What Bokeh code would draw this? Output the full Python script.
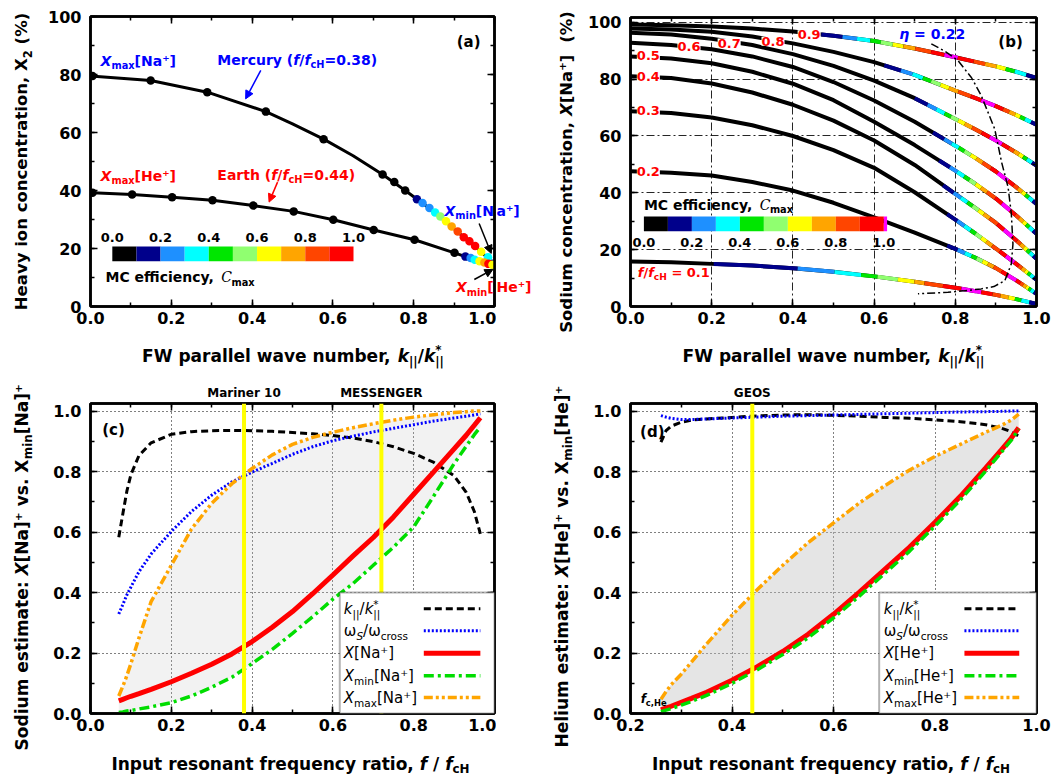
import math
import numpy as np
from bokeh.plotting import figure
from bokeh.layouts import row, column
from bokeh.models import (Range1d, LinearAxis, SingleIntervalTicker, PrintfTickFormatter,
                          Label, Span, BoxAnnotation, Arrow, NormalHead, ColumnDataSource)
from bokeh.transform import linear_cmap
from bokeh.embed import file_html
from bokeh.resources import INLINE

# ============================ DATA ============================
# ---- panel (a): heavy ion concentration vs k||/k||*
a_na_k = [0.005, 0.149, 0.289, 0.434, 0.577, 0.723, 0.752, 0.779, 0.808, 0.822, 0.839,
          0.853, 0.866, 0.880, 0.894, 0.909, 0.924, 0.938, 0.952, 0.967, 0.984, 0.996]
a_na_x = [79.5, 77.9, 73.9, 67.2, 57.7, 45.5, 42.9, 40.0, 37.0, 35.7, 34.0,
          32.4, 31.0, 29.4, 27.6, 25.9, 23.9, 22.5, 20.9, 18.9, 17.0, 14.7]
a_na_c = [0, 0, 0, 0, 0, 0, 0, 0, 0.15, 0.25, 0.25,
          0.35, 0.55, 0.65, 0.75, 0.85, 0.95, 0.95, 0.95, 0.65, 0.35, 0.15]
a_na_line_k = [0.0, 0.149, 0.289, 0.434, 0.5, 0.577, 0.65, 0.723, 0.779, 0.853, 0.924, 0.967, 1.0]
a_na_line_x = [79.5, 77.9, 73.9, 67.2, 63.0, 57.7, 52.0, 45.5, 40.0, 32.4, 23.9, 18.9, 14.3]

a_he_k = [0.005, 0.103, 0.202, 0.302, 0.403, 0.503, 0.601, 0.701, 0.802, 0.901,
          0.928, 0.941, 0.951, 0.963, 0.975, 0.985, 0.995]
a_he_x = [39.2, 38.6, 37.7, 36.6, 34.8, 32.8, 29.9, 26.4, 23.0, 18.5,
          17.2, 16.7, 16.1, 15.6, 15.2, 14.7, 14.4]
a_he_c = [0, 0, 0, 0, 0, 0, 0, 0, 0, 0,
          0.15, 0.25, 0.35, 0.65, 0.75, 0.95, 0.65]

# ---- panel (b): sodium concentration curves for f/fcH = 0.1 ... 0.9
b_k = [0.0, 0.1, 0.2, 0.3, 0.4, 0.5, 0.6, 0.7, 0.8, 0.85, 0.9, 0.95, 1.0]
b_f01 = [15.8, 15.6, 15.0, 14.4, 13.5, 12.2, 10.6, 8.7, 6.6, 5.4, 4.1, 2.6, 0.9]
b_f02 = [47.6, 47.1, 46.1, 43.8, 40.8, 36.5, 31.4, 26.0, 20.3, 17.1, 13.5, 9.2, 4.5]
b_f03 = [68.7, 68.1, 66.5, 63.8, 60.0, 55.0, 48.8, 40.2, 30.6, 25.6, 20.4, 15.0, 9.4]
b_f04 = [81.0, 80.4, 78.5, 75.3, 71.0, 65.4, 58.4, 49.8, 39.6, 34.6, 29.4, 23.3, 16.8]
b_f05 = [88.0, 87.3, 85.6, 82.6, 78.4, 72.6, 65.0, 56.8, 47.8, 43.1, 38.0, 32.0, 25.6]
b_f06 = [92.8, 92.0, 90.5, 88.0, 84.3, 79.0, 72.5, 65.0, 56.6, 52.2, 47.5, 42.0, 36.1]
b_f07 = [96.3, 95.7, 94.2, 92.0, 88.8, 84.7, 79.5, 73.3, 66.0, 62.3, 58.4, 54.2, 49.6]
b_f08 = [97.8, 97.5, 96.7, 95.0, 92.6, 89.6, 86.0, 81.5, 76.0, 73.3, 70.5, 67.4, 64.0]
b_f09 = [99.2, 99.0, 98.5, 97.8, 96.8, 95.3, 93.4, 90.8, 87.7, 86.1, 84.5, 82.6, 80.4]
b_f_labels = ["0.1", "0.2", "0.3", "0.4", "0.5", "0.6", "0.7", "0.8", "0.9"]
# k where MC efficiency colouring starts, and the k-window of the efficiency peak
b_c_start = [0.205, 0.78, 0.78, 0.77, 0.76, 0.745, 0.70, 0.625, 0.47]
b_peak_lo = [0.815, 0.93, 0.925, 0.92, 0.915, 0.905, 0.885, 0.864, 0.773]
b_peak_hi = [0.864, 0.95, 0.945, 0.94, 0.935, 0.93, 0.915, 0.897, 0.806]
# eta = 0.22 contour
eta_k = [0.741, 0.775, 0.807, 0.84, 0.864, 0.897, 0.914, 0.930, 0.938, 0.942,
         0.938, 0.922, 0.895, 0.864, 0.82, 0.782, 0.708]
eta_x = [92.4, 89.8, 86.5, 80.5, 74.2, 62.5, 50.8, 42.0, 32.6, 22.0,
         15.0, 9.1, 7.0, 6.2, 5.5, 5.0, 4.5]

# ---- panel (c): sodium estimate vs f/fcH
c_f = [0.07, 0.08, 0.09, 0.10, 0.12, 0.15, 0.20, 0.25, 0.30, 0.35, 0.40, 0.45,
       0.50, 0.55, 0.60, 0.65, 0.70, 0.75, 0.80, 0.85, 0.90, 0.93, 0.95, 0.965]
c_kpar = [0.583, 0.66, 0.735, 0.79, 0.853, 0.895, 0.923, 0.932, 0.935, 0.936, 0.935, 0.933,
          0.929, 0.925, 0.919, 0.911, 0.899, 0.882, 0.86, 0.83, 0.786, 0.731, 0.668, 0.594]
c_omega = [0.329, 0.36, 0.392, 0.418, 0.469, 0.527, 0.602, 0.668, 0.722, 0.766, 0.798, 0.827,
           0.857, 0.882, 0.902, 0.917, 0.931, 0.943, 0.955, 0.967, 0.977, 0.983, 0.987, 0.991]
c_x = [0.042, 0.047, 0.052, 0.057, 0.066, 0.08, 0.105, 0.133, 0.163, 0.197, 0.238, 0.285,
       0.337, 0.396, 0.458, 0.521, 0.582, 0.65, 0.725, 0.8, 0.875, 0.92, 0.953, 0.978]
c_xmin = [0.003, 0.005, 0.008, 0.01, 0.015, 0.022, 0.036, 0.058, 0.087, 0.12, 0.165, 0.212,
          0.265, 0.32, 0.378, 0.43, 0.49, 0.55, 0.617, 0.72, 0.826, 0.884, 0.922, 0.947]
c_xmax = [0.058, 0.09, 0.125, 0.165, 0.25, 0.37, 0.49, 0.61, 0.695, 0.76, 0.81, 0.855,
          0.89, 0.913, 0.93, 0.945, 0.958, 0.97, 0.98, 0.988, 0.995, 0.998, 1.0, 1.0]
c_mission_f = [0.38, 0.72]
c_mission_name = ["Mariner 10", "MESSENGER"]

# ---- panel (d): helium estimate vs f/fcH
d_f = [0.26, 0.27, 0.28, 0.30, 0.32, 0.35, 0.40, 0.45, 0.50, 0.55, 0.60, 0.65,
       0.70, 0.75, 0.80, 0.85, 0.90, 0.93, 0.95, 0.965]
d_kpar = [0.897, 0.935, 0.95, 0.963, 0.97, 0.974, 0.979, 0.984, 0.987, 0.988, 0.986, 0.983,
          0.979, 0.976, 0.971, 0.965, 0.955, 0.944, 0.932, 0.917]
d_omega = [0.985, 0.98, 0.976, 0.972, 0.972, 0.974, 0.977, 0.98, 0.983, 0.985, 0.987, 0.989,
           0.991, 0.993, 0.995, 0.997, 0.998, 0.999, 1.0, 1.0]
d_x = [0.012, 0.018, 0.024, 0.037, 0.05, 0.07, 0.11, 0.155, 0.205, 0.262, 0.328, 0.40,
       0.475, 0.55, 0.632, 0.718, 0.812, 0.87, 0.91, 0.945]
d_xmin = [0.006, 0.011, 0.016, 0.028, 0.04, 0.06, 0.1, 0.145, 0.195, 0.25, 0.316, 0.387,
          0.462, 0.537, 0.62, 0.706, 0.802, 0.862, 0.903, 0.94]
d_xmax = [0.047, 0.072, 0.095, 0.13, 0.17, 0.23, 0.325, 0.41, 0.49, 0.565, 0.63, 0.695,
          0.752, 0.805, 0.85, 0.89, 0.93, 0.952, 0.97, 0.99]
d_mission_f = [0.44]
d_mission_name = ["GEOS"]

# ---- MC efficiency colour scale
mc_bins = [0.0, 0.1, 0.2, 0.3, 0.4, 0.5, 0.6, 0.7, 0.8, 0.9]
mc_ticks = [0.0, 0.2, 0.4, 0.6, 0.8, 1.0]

# ============================ STYLE / LAYOUT ============================
FONT = "DejaVu Sans"
PALETTE = ["#000000", "#00008b", "#1e90ff", "#00ffff", "#00e600",
           "#90ff70", "#ffff00", "#ffa500", "#ff4500", "#ff0000"]
MAGENTA = "#ff00ff"

BW = {' ': .348, 'a': .675, 'b': .716, 'c': .593, 'd': .716, 'e': .678, 'f': .435, 'g': .716,
      'h': .712, 'i': .343, 'j': .343, 'k': .665, 'l': .343, 'm': 1.042, 'n': .712, 'o': .687,
      'p': .716, 'q': .716, 'r': .493, 's': .595, 't': .478, 'u': .712, 'v': .652, 'w': .924,
      'x': .645, 'y': .652, 'z': .582, 'A': .774, 'B': .762, 'C': .734, 'D': .830, 'E': .683,
      'F': .683, 'G': .821, 'H': .837, 'I': .372, 'K': .775, 'L': .637, 'M': .995, 'N': .837,
      'O': .850, 'P': .733, 'R': .770, 'S': .720, 'T': .682, 'U': .812, 'W': 1.03, 'X': .774,
      'Y': .724, 'Z': .725, '(': .457, ')': .457, '[': .457, ']': .457, ',': .38, '.': .38,
      ':': .4, '/': .365, '=': .838, '%': 1.002, '*': .523, '|': .366, '+': .838, '-': .415,
      '\u207a': .55, '\u03c9': .93, '\u03b7': .712}
NW = {' ': .318, 'a': .613, 'b': .635, 'c': .550, 'd': .635, 'e': .615, 'f': .352, 'g': .635,
      'h': .634, 'i': .278, 'k': .579, 'l': .278, 'm': .974, 'n': .634, 'o': .612, 'p': .635,
      'r': .411, 's': .521, 't': .392, 'u': .634, 'v': .592, 'w': .818, 'x': .592, 'y': .592,
      'C': .698, 'H': .752, 'N': .748, 'S': .635, 'X': .685, '(': .390, ')': .390, '[': .390,
      ']': .390, ',': .318, '.': .318, '/': .337, '=': .838, '*': .500, '|': .337,
      '\u207a': .52, '\u03c9': .84, '+': .838}
for _d in "0123456789":
    BW[_d] = .696
    NW[_d] = .636


def text_w(s, size, bold=True):
    tbl = BW if bold else NW
    return sum(tbl.get(ch, 0.65) for ch in s) * size


def rich(p, x, y, parts, size, color="black", bold=True, angle=0.0, align="left",
         dx=0.0, dy=0.0, vcenter=False, units="data"):
    """Place a text made of pieces (normal / italic / sub / sup) as real text Labels.
    (x, y) is the baseline start (or its centre line when vcenter=True)."""
    items = []
    pos = 0.0
    prev_start = 0.0
    for text, mode in parts:
        small = mode in ("sub", "isub", "sup", "supback")
        s = size * 0.7 if small else size
        italic = mode in ("i", "isub")
        family = FONT
        if mode == "cal":
            family, style = "DejaVu Serif", "italic"
        else:
            style = ("bold " if bold else "") + ("italic" if italic else "")
            style = style.strip() or "normal"
        w = text_w(text, s, bold)
        if mode in ("sub", "isub"):
            shift = -0.24 * size
        elif mode in ("sup", "supback"):
            shift = 0.45 * size
        else:
            shift = 0.0
        start = prev_start if mode == "supback" else pos
        # leading blanks would be collapsed in SVG text: skip them by position instead
        body = text.lstrip(" ")
        lead = text_w(text[:len(text) - len(body)], s, bold)
        items.append((body, s, family, style, start + lead, shift))
        if mode == "supback":
            pos = max(pos, start + w)
        else:
            prev_start = pos
            pos += w
    total = pos
    off = {"left": 0.0, "center": -total / 2.0, "right": -total}[align]
    base = -0.36 * size if vcenter else 0.0
    ca, sa = math.cos(angle), math.sin(angle)
    for text, s, family, style, start, shift in items:
        a = start + off
        b = shift + base + 0.35 * s      # middle of the piece, above its baseline
        p.add_layout(Label(x=x, y=y, x_units=units, y_units=units,
                           x_offset=dx + a * ca - b * sa, y_offset=dy + a * sa + b * ca,
                           text=text, angle=angle, text_font=family, text_font_size=f"{s:.1f}px",
                           text_font_style=style, text_color=color, text_align="left",
                           text_baseline="middle"))


def plain(p, x, y, text, size, color="black", bold=True, align="center", dx=0, dy=0, bg=None,
          units="data"):
    kw = {}
    if bg is not None:
        kw = dict(background_fill_color=bg, background_fill_alpha=1.0)
    p.add_layout(Label(x=x, y=y, x_units=units, y_units=units, x_offset=dx, y_offset=dy,
                       text=text, text_font=FONT,
                       text_font_size=f"{size}px", text_font_style="bold" if bold else "normal",
                       text_color=color, text_align=align, text_baseline="middle", **kw))


def make_fig(w, h, xr, yr, bl, br, bt, bb):
    p = figure(width=w, height=h, x_range=Range1d(*xr), y_range=Range1d(*yr),
               output_backend="svg", toolbar_location=None,
               min_border_left=bl, min_border_right=br, min_border_top=bt, min_border_bottom=bb,
               background_fill_color="white", border_fill_color="white")
    p.outline_line_color = "black"
    p.outline_line_width = 2.5
    return p


def strip(w, h):
    """Text-only canvas for the texts outside the plot frames."""
    s = figure(width=w, height=h, x_range=Range1d(0, 1), y_range=Range1d(0, 1),
               x_axis_type=None, y_axis_type=None, output_backend="svg", toolbar_location=None,
               min_border=0, min_border_left=0, min_border_right=0, min_border_top=0,
               min_border_bottom=0, background_fill_color="white", border_fill_color="white")
    s.outline_line_color = None
    s.grid.visible = False
    return s


def style_axes(p, xint, yint, xfmt, yfmt):
    xt = SingleIntervalTicker(interval=xint, num_minor_ticks=2)
    yt = SingleIntervalTicker(interval=yint, num_minor_ticks=2)
    p.xaxis[0].ticker = xt
    p.yaxis[0].ticker = yt
    p.xaxis[0].formatter = PrintfTickFormatter(format=xfmt)
    p.yaxis[0].formatter = PrintfTickFormatter(format=yfmt)
    p.add_layout(LinearAxis(ticker=xt), "above")
    p.add_layout(LinearAxis(ticker=yt), "right")
    for ax in list(p.xaxis) + list(p.yaxis):
        ax.axis_line_width = 2.5
        ax.major_tick_in = 7
        ax.major_tick_out = 0
        ax.minor_tick_in = 4
        ax.minor_tick_out = 0
        ax.major_tick_line_width = 1.5
        ax.minor_tick_line_width = 1.5
        ax.major_label_text_font = FONT
        ax.major_label_text_font_style = "bold"
        ax.major_label_text_font_size = "16px"
        ax.major_label_text_color = "black"
    p.xaxis[0].major_label_standoff = 10
    p.yaxis[0].major_label_standoff = 9
    for ax in (p.above[0], p.right[0]):
        ax.major_label_text_font_size = "1px"
        ax.major_label_text_color = None
        ax.major_label_standoff = 0
    return xt, yt


cmap = linear_cmap("c", PALETTE, 0.0, 1.0, high_color=MAGENTA)

KPAR = [("k", "i"), ("||", "sub"), ("/", "n"), ("k", "i"), ("||", "sub"), ("*", "supback")]
FRATIO = [("Input resonant frequency ratio, ", "n"), ("f", "i"), (" / ", "n"), ("f", "i"),
          ("cH", "sub")]
ST_K = dict(line_color="black", line_width=3, line_dash="7 4")
ST_W = dict(line_color="#0000ff", line_width=3, line_dash="2 2")
ST_X = dict(line_color="#ff0000", line_width=5)
ST_MIN = dict(line_color="#00dd00", line_width=3.5, line_dash="10 4 3 4")
ST_MAX = dict(line_color="#ffa500", line_width=3.5, line_dash="9 3 3 3 3 3")


def colorbar(p, x0, x1, y0, y1, label_y, extra_magenta=0.0):
    lefts = [x0 + b * (x1 - x0) for b in mc_bins]
    rights = [x0 + (b + 0.1) * (x1 - x0) for b in mc_bins]
    src = ColumnDataSource(dict(l=lefts, r=rights, c=[b + 0.05 for b in mc_bins]))
    p.quad(left="l", right="r", bottom=y0, top=y1, fill_color=cmap, line_color=None, source=src)
    if extra_magenta > 0:
        p.quad(left=[x1], right=[x1 + extra_magenta], bottom=y0, top=y1,
               fill_color=MAGENTA, line_color=None)
    for t in mc_ticks:
        plain(p, x0 + t * (x1 - x0), label_y, f"{t:.1f}", 13)


def legend(p, box, rows, text_x, line_x, entries, size=15):
    p.add_layout(BoxAnnotation(left=box[0], right=box[1], bottom=box[2], top=box[3],
                               fill_color="white", fill_alpha=1.0, line_color="black",
                               line_width=2))
    for (parts, st), y in zip(entries, rows):
        p.line(line_x, [y, y], level="overlay", **st)
        rich(p, text_x, y, parts, size, bold=False, vcenter=True)


# page layout (page starts at 0,0): columns 34 | 462 | 82 | 479 px, rows 340 | 61 | 349 | 28 px.
# Strips stacked under a plot share that plot's frame (x measured from the frame's left edge).
sL = strip(34, 778)        # y titles of (a) and (c)
sM = strip(82, 778)        # y titles of (b) and (d)
s1L = strip(462, 61)       # x title of (a), mission names of (c)
s1R = strip(479, 61)       # x title of (b), mission name of (d)
s2L = strip(462, 28)       # x title of (c)
s2R = strip(479, 28)       # x title of (d)

# ============================ PANEL (a) ============================
# frame 404 x 290 px
pa = make_fig(462, 340, (0, 1), (0, 100), 56, 2, 16, 34)
style_axes(pa, 0.2, 20, "%.1f", "%d")
pa.grid.visible = False
pa.line(a_na_line_k, a_na_line_x, line_color="black", line_width=3)
pa.line([0.0] + a_he_k + [1.0], [39.3] + a_he_x + [14.3], line_color="black", line_width=3)
src_na = ColumnDataSource(dict(k=a_na_k, x=a_na_x, c=a_na_c))
src_he = ColumnDataSource(dict(k=a_he_k, x=a_he_x, c=a_he_c))
pa.scatter("k", "x", size=8.5, fill_color=cmap, line_color=None, source=src_na)
pa.scatter("k", "x", size=8.5, fill_color=cmap, line_color=None, source=src_he)
colorbar(pa, 0.054, 0.651, 15.6, 20.7, 23.8)
rich(pa, 0.037, 10.1, [("MC efficiency, ", "n"), ("C", "cal"), ("max", "sub")], 14, vcenter=True)
rich(pa, 0.025, 83.1, [("X", "i"), ("max", "sub"), ("[Na\u207a]", "n")], 14, color="#0000ff")
rich(pa, 0.314, 83.4, [("Mercury (", "n"), ("f", "i"), ("/", "n"), ("f", "i"), ("cH", "sub"),
                       ("=0.38)", "n")], 14, color="#0000ff")
rich(pa, 0.025, 43.4, [("X", "i"), ("max", "sub"), ("[He\u207a]", "n")], 14, color="#ff0000")
rich(pa, 0.314, 43.8, [("Earth (", "n"), ("f", "i"), ("/", "n"), ("f", "i"), ("cH", "sub"),
                       ("=0.44)", "n")], 14, color="#ff0000")
# labels that run past the right frame edge: first part inside the frame, rest on the strip
rich(pa, 0.8762, 31.4, [("X", "i"), ("min", "sub"), ("[N", "n")], 14, color="#0000ff")
rich(sM, 0, 563, [("a\u207a]", "n")], 14, color="#0000ff", units="screen")
rich(pa, 0.9045, 4.9, [("X", "i"), ("min", "sub"), ("[", "n")], 14, color="#ff0000")
rich(sM, 0, 486.3, [("He\u207a]", "n")], 14, color="#ff0000", units="screen")
plain(pa, 0.936, 91.1, "(a)", 15)
for (xs, ys, xe, ye, col) in [(0.4215, 81.4, 0.384, 71.6, "#0000ff"),
                              (0.463, 42.9, 0.442, 36.0, "#ff0000"),
                              (0.962, 28.6, 0.992, 18.3, "black"),
                              (0.950, 9.3, 0.996, 12.8, "black")]:
    pa.add_layout(Arrow(end=NormalHead(size=8, fill_color=col, line_color=col, line_width=1),
                        x_start=xs, y_start=ys, x_end=xe, y_end=ye,
                        line_color=col, line_width=1.5))
rich(sL, 27, 617, [("Heavy ion concentration, X", "n"), ("2", "sub"), (" (%)", "n")], 16.5,
     angle=math.pi / 2, align="center", units="screen")
rich(s1L, 202.5, 39.3, [("FW parallel wave number, ", "n")] + KPAR, 17, align="center",
     units="screen")

# ============================ PANEL (b) ============================
# frame 406 x 289 px
pb = make_fig(479, 340, (0, 1), (0, 101.7), 52, 21, 17, 34)
style_axes(pb, 0.2, 20, "%.1f", "%d")
for g in (pb.xgrid[0], pb.ygrid[0]):
    g.grid_line_color = "black"
    g.grid_line_dash = "8 3 2 3"
    g.grid_line_width = 1
    g.grid_line_alpha = 0.85

RISE_W = [1.6, 1.1, 1.0, 0.8, 0.9, 0.8, 0.9, 1.2, 1.0]
RISE_W_LOW = [4.1, 1.8, 1.3, 0.8, 1.0, 0.8, 0.5, 0.9, 0.9]
RISE_C = [0.15, 0.25, 0.35, 0.45, 0.55, 0.65, 0.75, 0.85, 0.95]
FALL_W = [1.4, 1.0, 1.0, 0.8, 0.8, 1.0, 0.9]
FALL_C = [0.95, 0.85, 0.75, 0.65, 0.45, 0.35, 0.15]


def cuts(a, b, w):
    cw = np.cumsum([0.0] + list(w)) / float(sum(w))
    return [a + (b - a) * c for c in cw]


def piece(k_arr, x_arr, k0, k1):
    ks = [k0] + [k for k in k_arr if k0 < k < k1] + [k1]
    return ks, [float(v) for v in np.interp(ks, k_arr, x_arr)]


b_curves = [b_f01, b_f02, b_f03, b_f04, b_f05, b_f06, b_f07, b_f08, b_f09]
seg_xs, seg_ys, seg_c = [], [], []
for i, cur in enumerate(b_curves):
    pb.line(b_k, cur, line_color="black", line_width=4)
    rw = RISE_W_LOW if i == 0 else RISE_W
    rc = cuts(b_c_start[i], b_peak_lo[i], rw)
    fc = cuts(b_peak_hi[i], 1.0, FALL_W)
    bounds = [(rc[j], rc[j + 1], RISE_C[j]) for j in range(9)]
    bounds.append((b_peak_lo[i], b_peak_hi[i], 1.05))
    bounds += [(fc[j], fc[j + 1], FALL_C[j]) for j in range(7)]
    for k0, k1, c in bounds:
        ks, xs = piece(b_k, cur, k0, k1)
        seg_xs.append(ks)
        seg_ys.append(xs)
        seg_c.append(c)
pb.multi_line(xs="xs", ys="ys", line_color=cmap, line_width=4,
              source=ColumnDataSource(dict(xs=seg_xs, ys=seg_ys, c=seg_c)))
pb.line(eta_k, eta_x, line_color="black", line_width=1.5, line_dash="8 3 2 3")

for lab, (lx, ly) in zip(b_f_labels[1:], [(0.044, 47.6), (0.044, 68.9), (0.044, 80.9),
                                          (0.044, 88.3), (0.144, 91.5), (0.243, 92.7),
                                          (0.351, 93.3), (0.44, 95.6)]):
    plain(pb, lx, ly, lab, 13, color="#ff0000", bg="white")
rich(pb, 0.018, 12.1, [("f", "i"), ("/", "n"), ("f", "i"), ("cH", "sub"), (" = " + b_f_labels[0], "n")],
     13, color="#ff0000", vcenter=True)
rich(pb, 0.662, 96.1, [("\u03b7", "i"), (" = 0.22", "n")], 14, color="#0000ff", vcenter=True)
plain(pb, 0.936, 93.0, "(b)", 15)
colorbar(pb, 0.033, 0.624, 26.5, 31.7, 22.4, extra_magenta=0.008)
rich(pb, 0.033, 35.9, [("MC efficiency, ", "n"), ("C", "cal"), ("max", "sub")], 14, vcenter=True)
rich(sM, 75.7, 606.5, [("Sodium concentration, ", "n"), ("X", "i"), ("[Na\u207a]", "n"),
                       ("  (%)", "n")], 16.5,
     angle=math.pi / 2, align="center", units="screen")
rich(s1R, 203, 39.3, [("FW parallel wave number, ", "n")] + KPAR, 17, align="center",
     units="screen")

# ============================ PANEL (c) / (d) ============================
ROWS = [0.346, 0.274, 0.199, 0.125, 0.053]


def estimate_panel(p, f, kpar, omega, x, xmin, xmax, fill_alpha, mis_f, mis_n, ion, box,
                   text_x, line_x, top_strip, frame_w, x_lo):
    for g in (p.xgrid[0], p.ygrid[0]):
        g.grid_line_color = "black"
        g.grid_line_dash = "1 3"
        g.grid_line_width = 1
    p.varea(x=f, y1=xmin, y2=xmax, fill_color="#bdbdbd", fill_alpha=fill_alpha)
    p.line(f, kpar, **ST_K)
    p.line(f, omega, **ST_W)
    p.line(f, x, **ST_X)
    p.line(f, xmin, **ST_MIN)
    p.line(f, xmax, **ST_MAX)
    for mf, mn in zip(mis_f, mis_n):
        p.add_layout(Span(location=mf, dimension="height", line_color="#ffff00", line_width=4))
        sx = (mf - x_lo) / (1.0 - x_lo) * frame_w
        plain(top_strip, sx, 9, mn, 12, units="screen")
    ionp = "[" + ion + "\u207a]"
    entries = [(KPAR, ST_K),
               ([("\u03c9", "n"), ("S", "isub"), ("/", "n"), ("\u03c9", "n"), ("cross", "sub")], ST_W),
               ([("X", "i"), (ionp, "n")], ST_X),
               ([("X", "i"), ("min", "sub"), (ionp, "n")], ST_MIN),
               ([("X", "i"), ("max", "sub"), (ionp, "n")], ST_MAX)]
    legend(p, box, ROWS, text_x, line_x, entries)


# frame 404 x 310 px
pc = make_fig(462, 349, (0, 1), (0, 1.025), 56, 2, 2, 37)
style_axes(pc, 0.2, 0.2, "%.1f", "%.1f")
estimate_panel(pc, c_f, c_kpar, c_omega, c_x, c_xmin, c_xmax, 0.2, c_mission_f, c_mission_name,
               "Na", (0.617, 1.0, 0.0, 0.4), 0.627, [0.825, 0.965], s1L, 404, 0.0)
plain(pc, 0.057, 0.936, "(c)", 15)
rich(sL, 27.3, 211.5, [("Sodium estimate: ", "n"), ("X", "i"), ("[Na]\u207a vs. X", "n"),
                       ("min", "sub"), ("[Na]\u207a", "n")], 17,
     angle=math.pi / 2, align="center", units="screen")
rich(s2L, 200, 9, FRATIO, 17, align="center", units="screen")

# frame 406 x 310 px
pd = make_fig(479, 349, (0.2, 1), (0, 1.025), 52, 21, 2, 37)
style_axes(pd, 0.2, 0.2, "%.1f", "%.1f")
estimate_panel(pd, d_f, d_kpar, d_omega, d_x, d_xmin, d_xmax, 0.4, d_mission_f, d_mission_name,
               "He", (0.69, 1.0, 0.0, 0.4), 0.699, [0.858, 0.966], s1R, 406, 0.2)
plain(pd, 0.243, 0.93, "(d)", 15)
rich(pd, 0.22, 0.035, [("f", "i"), ("c,He", "sub")], 12)
rich(sM, 71.3, 212.2, [("Helium estimate: ", "n"), ("X", "i"), ("[He]\u207a vs. X", "n"),
                       ("min", "sub"), ("[He]\u207a", "n")], 17,
     angle=math.pi / 2, align="center", units="screen")
rich(s2R, 200.5, 9, FRATIO, 17, align="center", units="screen")

layout = row(column(sL), column(pa, s1L, pc, s2L), column(sM), column(pb, s1R, pd, s2R))
open("out.html", "w").write(file_html(layout, INLINE, "Figure"))
